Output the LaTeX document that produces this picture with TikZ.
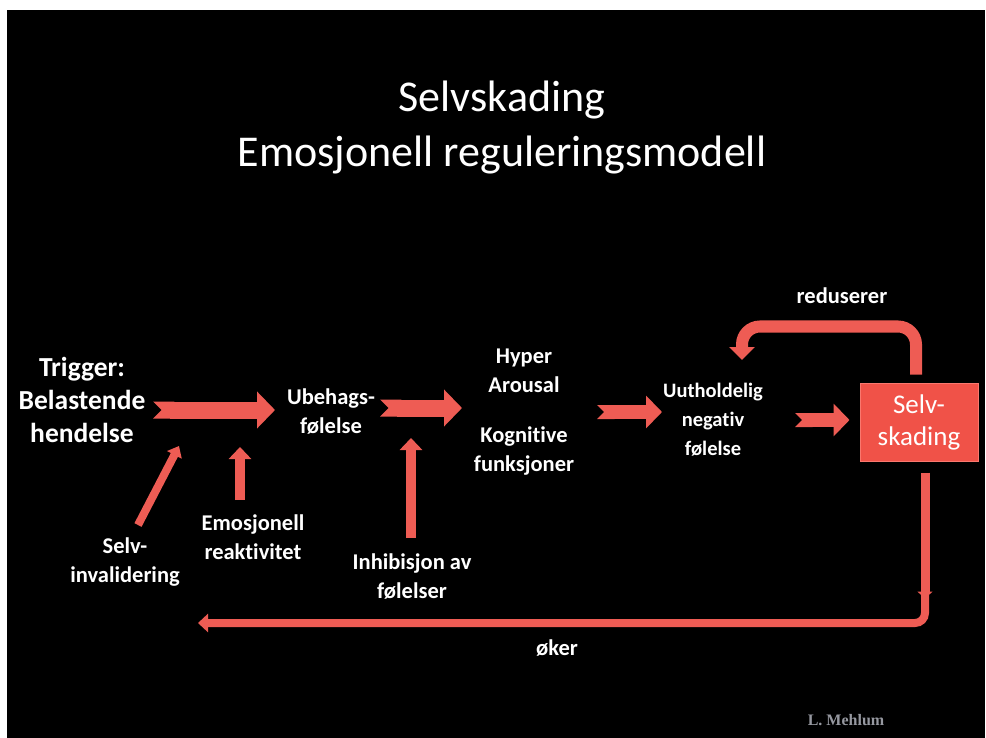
\documentclass[tikz,border=0pt]{standalone}
\usepackage{fontspec}
\setmainfont{Carlito}[Ligatures=NoCommon]
\newfontfamily\signfont{Liberation Serif}
\usetikzlibrary{arrows.meta}
\definecolor{arrowred}{RGB}{238,92,84}
\definecolor{boxred}{RGB}{240,82,72}
\definecolor{boxedge}{RGB}{250,120,110}
\definecolor{signgrey}{RGB}{150,152,160}
\begin{document}
\begin{tikzpicture}[x=1pt,y=-1pt,
  lbl/.style={text=white,font=\bfseries\fontsize{22.5}{29}\selectfont,align=center,inner sep=0pt},
  bigarrow/.style={draw=arrowred,line width=17pt,{Triangle Cap[reversed]}-{Triangle[width=36pt,length=18pt]}},
  midarrow/.style={draw=arrowred,line width=14pt,{Triangle Cap[reversed]}-{Triangle[width=32pt,length=16pt]}},
  uparrow/.style={draw=arrowred,line width=10pt,-{Triangle[width=22pt,length=12pt]}},
  thinarrow/.style={draw=arrowred,line width=8pt,-{Triangle[width=16pt,length=10pt]}},
  looparrow/.style={draw=arrowred,line width=12pt,rounded corners=18pt,-{Triangle[width=25pt,length=13pt]}},
  backarrow/.style={draw=arrowred,line width=8pt,rounded corners=10pt,-{Triangle[width=18pt,length=10pt]}},
  ]
\useasboundingbox (0,0) rectangle (986,738);
\fill[white] (0,0) rectangle (986,738);
\fill[black] (7,10) rectangle (985,738);

% title
\node[text=white,font=\fontsize{44}{55}\selectfont,align=center,inner sep=0pt] (title) at (502,128) {Selvskading\\Emosjonell reguleringsmodell};

% nodes
\node[lbl,font=\bfseries\fontsize{27.5}{33}\selectfont] (trigger) at (82,400) {Trigger:\\Belastende\\hendelse};
\node[lbl] (ubehag) at (331,412) {Ubehags-\\følelse};
\node[lbl] (hyper) at (524,412) {Hyper\\Arousal\\[21pt]Kognitive\\funksjoner};
\node[lbl,font=\bfseries\fontsize{20.5}{29}\selectfont] (uuthold) at (713,420) {Uutholdelig\\negativ\\følelse};
\node[fill=boxred,draw=boxedge,line width=1pt,minimum width=118pt,minimum height=78pt,inner sep=0pt,
      text=white,font=\fontsize{27}{32}\selectfont,align=center] (box) at (919,422) {Selv-\\skading};
\node[lbl] (selvinv) at (125,562) {Selv-\\invalidering};
\node[lbl] (emoreak) at (253,537) {Emosjonell\\reaktivitet};
\node[lbl] (inhib) at (412,577) {Inhibisjon av\\følelser};
\node[lbl] (reduserer) at (842,296) {reduserer};
\node[lbl] (oker) at (557,648) {øker};
\node[text=signgrey,font=\signfont\bfseries\fontsize{16}{18}\selectfont,inner sep=0pt] (mehlum) at (846,720) {L. Mehlum};

% main chain
\draw[bigarrow] ([shift={(71,10)}]trigger.center) -- ([shift={(-56,-2)}]ubehag.center);
\draw[bigarrow] ([shift={(49,-4)}]ubehag.center) -- ([shift={(-62,-4)}]hyper.center);
\draw[midarrow] ([shift={(73,0)}]hyper.center) -- ([shift={(-51,-8)}]uuthold.center);
\draw[midarrow] ([shift={(82,0)}]uuthold.center) -- ([shift={(-10,-2)}]box.west);

% influences
\draw[thinarrow] ([shift={(13,-37)}]selvinv.center) -- ([shift={(97,46)}]trigger.center);
\draw[uparrow] ([shift={(-13,-37)}]emoreak.center) -- ++(0,-53);
\draw[uparrow] ([shift={(-1,-39)}]inhib.center) -- ++(0,-100);

% feedback loops
\draw[looparrow] ([shift={(-3,-8)}]box.north) -- ++(0,-48) -| ([shift={(29,-60)}]uuthold.center);
\draw[draw=arrowred,line width=9pt,-{Triangle[width=15pt,length=7pt]}] ([shift={(6,11)}]box.south) -- ++(0,126);
\draw[backarrow] ([shift={(6,133)}]box.south) |- ([shift={(116,223)}]trigger.center);
\end{tikzpicture}
\end{document}
